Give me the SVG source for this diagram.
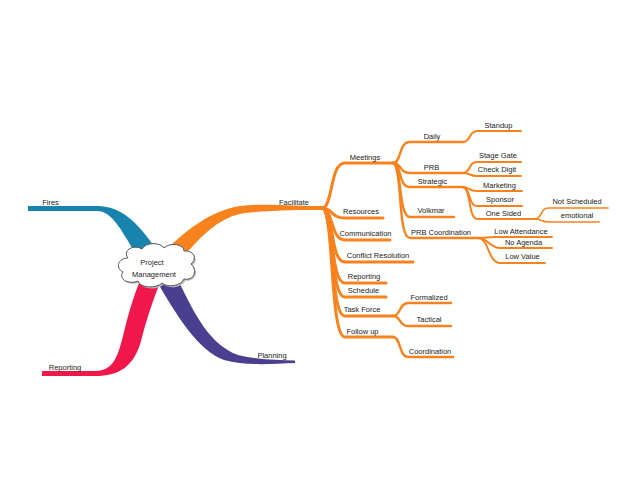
<svg xmlns="http://www.w3.org/2000/svg" width="640" height="494" viewBox="0 0 640 494">
<style>
text{font-family:"Liberation Sans","DejaVu Sans",sans-serif;font-size:7.5px;fill:#222;text-anchor:middle}
.o{fill:none;stroke:#F7821E;stroke-linecap:round}
.l1{stroke-width:3}
.l2{stroke-width:2.4}
.l3{stroke-width:2}
.l4{stroke-width:1.7}
</style>
<rect width="640" height="494" fill="#fff"/>
<g id="connectors">
<path id="b-fires" fill="#1884AE" d="M28,206 L97,206 C124,206 140,226 160,254 L136,254 C121,230 112,211 97,211 L28,211 Z"/>
<path id="b-facilitate" fill="#F7821E" d="M325,206 C292,206 262,203 240,206 C210,211 186,230 162,254 L186,254 C201,236 221,216 245,213 C272,210 300,210 325,210 Z"/>
<path id="b-planning" fill="#4A3E8E" d="M178,280 C195,315 210,345 238,355 C258,360 278,360 295,360.5 L295,363 C270,364 245,366 224,360 C199,351 178,318 156,280 Z"/>
<path id="b-reporting" fill="#F0174B" d="M42,371 L95,371 C114,371 118,356 124,332 C129,311 134,296 140,280 L161,280 C153,300 146,320 141,341 C134,366 120,376 95,376 L42,376 Z"/>
<g class="o l1">
<path d="M323,208 C333,205 330,163 345,163 L393,163"/>
<path d="M323,208 C333,209 331,218 345,218 L383,218"/>
<path d="M323,208 C333,211 331,240 345,240 L390,240"/>
<path d="M323,208 C334,212 330,262 345,262 L413,262"/>
<path d="M323,208 C334,213 330,283 345,283 L386,283"/>
<path d="M323,208 C334,214 330,297 345,297 L386,297"/>
<path d="M323,208 C334,215 330,316 345,316 L393,316"/>
<path d="M323,208 C334,216 330,337 345,337 L393,337"/>
</g>
<g class="o l2">
<path d="M393,163 C402,163 398,142 410,142 L463,142"/>
<path d="M393,163 C402,163 399,173 410,173 L463,173"/>
<path d="M393,163 C402,164 398,187 410,187 L462,187"/>
<path d="M393,163 C402,164 398,217 410,217 L454,217"/>
<path d="M393,163 C403,165 397,238 410,238 L480,238"/>
<path d="M393,316 C401,316 399,303 408,303 L451,303"/>
<path d="M393,316 C401,316 399,326 408,326 L451,326"/>
<path d="M393,337 C401,337 399,357 408,357 L453,357"/>
</g>
<g class="o l3">
<path d="M463,142 C471,142 468,131 478,131 L521,131"/>
<path d="M463,173 C471,173 468,162 477,162 L521,162"/>
<path d="M463,173 C471,173 469,176 477,176 L521,176"/>
<path d="M462,187 C470,187 468,191 477,191 L522,191"/>
<path d="M462,187 C471,187 468,206 477,206 L522,206"/>
<path d="M462,187 C472,187 467,219 478,219 L535,219"/>
<path d="M480,238 C486,238 488,237 495,237 L552,237"/>
<path d="M478,238 C488,238 490,248 500,248 L552,248"/>
<path d="M478,238 C489,238 488,263 500,263 L545,263"/>
</g>
<g class="o l4">
<path d="M535,219 C542,219 540,208 548,208 L608,208"/>
<path d="M535,219 C542,219 541,222 549,222 L599,222"/>
</g>
</g>
<g id="n-center">
<path d="M128,258 C122,250 134,244 142,249 C146,242 160,242 164,248 C170,242 184,244 184,251 C193,250 198,258 191,264 C198,270 194,281 184,279 C181,286 168,288 162,283 C156,289 140,288 138,281 C128,285 118,279 123,272 C115,268 118,258 128,258 Z" fill="#bbb" transform="translate(1.5,1.5)"/>
<path d="M128,258 C122,250 134,244 142,249 C146,242 160,242 164,248 C170,242 184,244 184,251 C193,250 198,258 191,264 C198,270 194,281 184,279 C181,286 168,288 162,283 C156,289 140,288 138,281 C128,285 118,279 123,272 C115,268 118,258 128,258 Z" fill="#fff" stroke="#555" stroke-width="1"/>
<text x="152" y="265">Project</text>
<text x="154" y="277">Management</text>
</g>
<g id="n-fires"><text x="50.5" y="205">Fires</text></g>
<g id="n-facilitate"><text x="294" y="205">Facilitate</text></g>
<g id="n-reporting-main"><text x="65" y="370">Reporting</text></g>
<g id="n-planning"><text x="272" y="358">Planning</text></g>
<g id="n-meetings"><text x="365" y="160">Meetings</text></g>
<g id="n-resources"><text x="361" y="214">Resources</text></g>
<g id="n-communication"><text x="365.5" y="236">Communication</text></g>
<g id="n-conflict"><text x="378" y="258">Conflict Resolution</text></g>
<g id="n-reporting"><text x="364" y="279">Reporting</text></g>
<g id="n-schedule"><text x="363.5" y="293">Schedule</text></g>
<g id="n-taskforce"><text x="362" y="312">Task Force</text></g>
<g id="n-followup"><text x="362.5" y="334">Follow up</text></g>
<g id="n-formalized"><text x="429" y="300">Formalized</text></g>
<g id="n-tactical"><text x="429" y="322">Tactical</text></g>
<g id="n-coordination"><text x="430" y="354">Coordination</text></g>
<g id="n-daily"><text x="432" y="139">Daily</text></g>
<g id="n-standup"><text x="498.5" y="128">Standup</text></g>
<g id="n-prb"><text x="431.5" y="170">PRB</text></g>
<g id="n-stagegate"><text x="498" y="158">Stage Gate</text></g>
<g id="n-checkdigit"><text x="497" y="172">Check Digit</text></g>
<g id="n-strategic"><text x="432.5" y="184">Strategic</text></g>
<g id="n-marketing"><text x="499.5" y="188">Marketing</text></g>
<g id="n-sponsor"><text x="500" y="202">Sponsor</text></g>
<g id="n-onesided"><text x="503.5" y="216">One Sided</text></g>
<g id="n-notscheduled"><text x="577" y="204">Not Scheduled</text></g>
<g id="n-emotional"><text x="577" y="218">emotional</text></g>
<g id="n-volkmar"><text x="431" y="213">Volkmar</text></g>
<g id="n-prbcoord"><text x="441" y="235">PRB Coordination</text></g>
<g id="n-lowattendance"><text x="521" y="234">Low Attendance</text></g>
<g id="n-noagenda"><text x="523.5" y="245">No Agenda</text></g>
<g id="n-lowvalue"><text x="522.5" y="259">Low Value</text></g>
</svg>
